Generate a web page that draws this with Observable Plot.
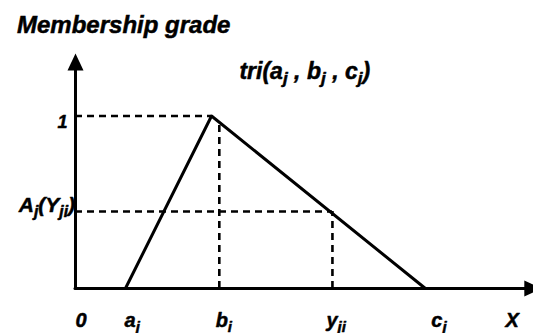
<!DOCTYPE html>
<html><head><meta charset="utf-8">
<script src="https://cdn.jsdelivr.net/npm/d3@7"></script>
<script src="https://cdn.jsdelivr.net/npm/@observablehq/plot@0.6"></script>
<style>
html,body{margin:0;padding:0;background:#fff;}
body{font-family:"Liberation Sans",Arial,sans-serif;width:533px;height:333px;overflow:hidden;}
#title{font-size:24px;font-weight:bold;font-style:italic;line-height:24px;padding:13px 0 3px 17px;height:24px;color:#000;-webkit-text-stroke:0.5px #000;}
</style></head><body>
<div id="title"></div>
<div id="chart"></div>
<script>
// ---- data (x in abstract units, grade in [0,1]) ----
const titleText = "Membership grade";
const functionLabel = "tri(a{j} , b{j} , c{j})";
const functionLabelPos = [3.58, 1.217];

// triangular membership function vertices
const triX = [1.09, 2.97, 7.64];
const triY = [0, 1, 0];

// guide lines
const peakGrade = 1;
const bValue = 3.14;
const bGuideTop = 0.957;
const yjiValue = 5.61;
const aLevel = 0.446;

// axis extents (arrow tips)
const xAxisEnd = 10.17;
const yAxisEnd = 1.362;

// tick labels
const xTickLabels = ["0", "a{j}", "b{i}", "y{ji}", "c{j}", "X"];
const xTickPos = [0.0, 1.07, 3.06, 5.48, 7.77, 9.39];
const xTickBaseline = -0.226;
const yTickLabels = ["1", "A{j}(Y{ji})"];
const yTickPos = [0.933, 0.441];
const yTickX = [-0.175, -0.01];

document.getElementById("title").textContent = titleText;

const arrowHead = {
  draw(ctx) {
    ctx.moveTo(0, 0);
    ctx.lineTo(8, 17);
    ctx.lineTo(-8, 17);
    ctx.closePath();
  }
};

const font = {fontWeight: "bold", fontStyle: "italic", fill: "black", stroke: "black", strokeWidth: 0.5};
const dash = {stroke: "black", strokeWidth: 2.6, strokeDasharray: "7,5"};

const plot = Plot.plot({
  width: 533,
  height: 293,
  marginLeft: 75,
  marginRight: 0,
  marginTop: 75.5,
  marginBottom: 45,
  x: {domain: [0, 10], axis: null},
  y: {domain: [0, 1], axis: null},
  style: {fontFamily: '"Liberation Sans", Arial, sans-serif', background: "white", overflow: "visible"},
  marks: [
    Plot.ruleY([peakGrade], {x1: 0, x2: triX[1], ...dash}),
    Plot.ruleX([bValue], {y1: 0, y2: bGuideTop, ...dash}),
    Plot.ruleY([aLevel], {x1: 0, x2: yjiValue, ...dash}),
    Plot.ruleX([yjiValue], {y1: 0, y2: aLevel, ...dash}),
    Plot.line(triX.map((x, i) => ({x, y: triY[i]})), {x: "x", y: "y", stroke: "black", strokeWidth: 3}),
    Plot.ruleY([0], {x1: 0, x2: xAxisEnd - 0.2, stroke: "black", strokeWidth: 3, strokeLinecap: "round"}),
    Plot.ruleX([0], {y1: 0, y2: yAxisEnd - 0.06, stroke: "black", strokeWidth: 3, strokeLinecap: "round"}),
    Plot.dot([{x: 0, y: yAxisEnd, r: 0}, {x: xAxisEnd, y: 0, r: 90}], {
      x: "x", y: "y", rotate: "r", symbol: arrowHead, r: 5, fill: "black", stroke: "none"
    }),
    Plot.text(xTickLabels, {x: xTickPos, y: xTickBaseline, text: d => d, textAnchor: "start", lineAnchor: "bottom", fontSize: 20, ...font}),
    Plot.text(yTickLabels.slice(0, 1), {x: yTickX.slice(0, 1), y: yTickPos.slice(0, 1), text: d => d, textAnchor: "end", lineAnchor: "bottom", fontSize: 18, ...font}),
    Plot.text(yTickLabels.slice(1), {x: yTickX.slice(1), y: yTickPos.slice(1), text: d => d, textAnchor: "end", lineAnchor: "bottom", fontSize: 21, ...font}),
    Plot.text([functionLabel], {x: [functionLabelPos[0]], y: [functionLabelPos[1]], text: d => d, textAnchor: "start", lineAnchor: "bottom", fontSize: 23, ...font})
  ]
});

document.getElementById("chart").appendChild(plot);

// subscripts: {..} → smaller lowered tspans
d3.select(plot).selectAll("text").each(function() {
  const s = this.textContent;
  if (!s.includes("{")) return;
  const fs = parseFloat(this.parentNode.getAttribute("font-size")) || 20;
  const shift = fs * 0.22;
  const parts = s.split(/(\{[^}]*\})/).filter(p => p);
  this.textContent = "";
  let shifted = false;
  for (const p of parts) {
    const t = document.createElementNS("http://www.w3.org/2000/svg", "tspan");
    if (p.startsWith("{")) {
      t.textContent = p.slice(1, -1);
      t.setAttribute("font-size", (fs * 0.75) + "px");
      t.setAttribute("dy", shift);
      shifted = true;
    } else {
      t.textContent = p;
      if (shifted) { t.setAttribute("dy", -shift); shifted = false; }
    }
    this.appendChild(t);
  }
});
</script>
</body></html>
